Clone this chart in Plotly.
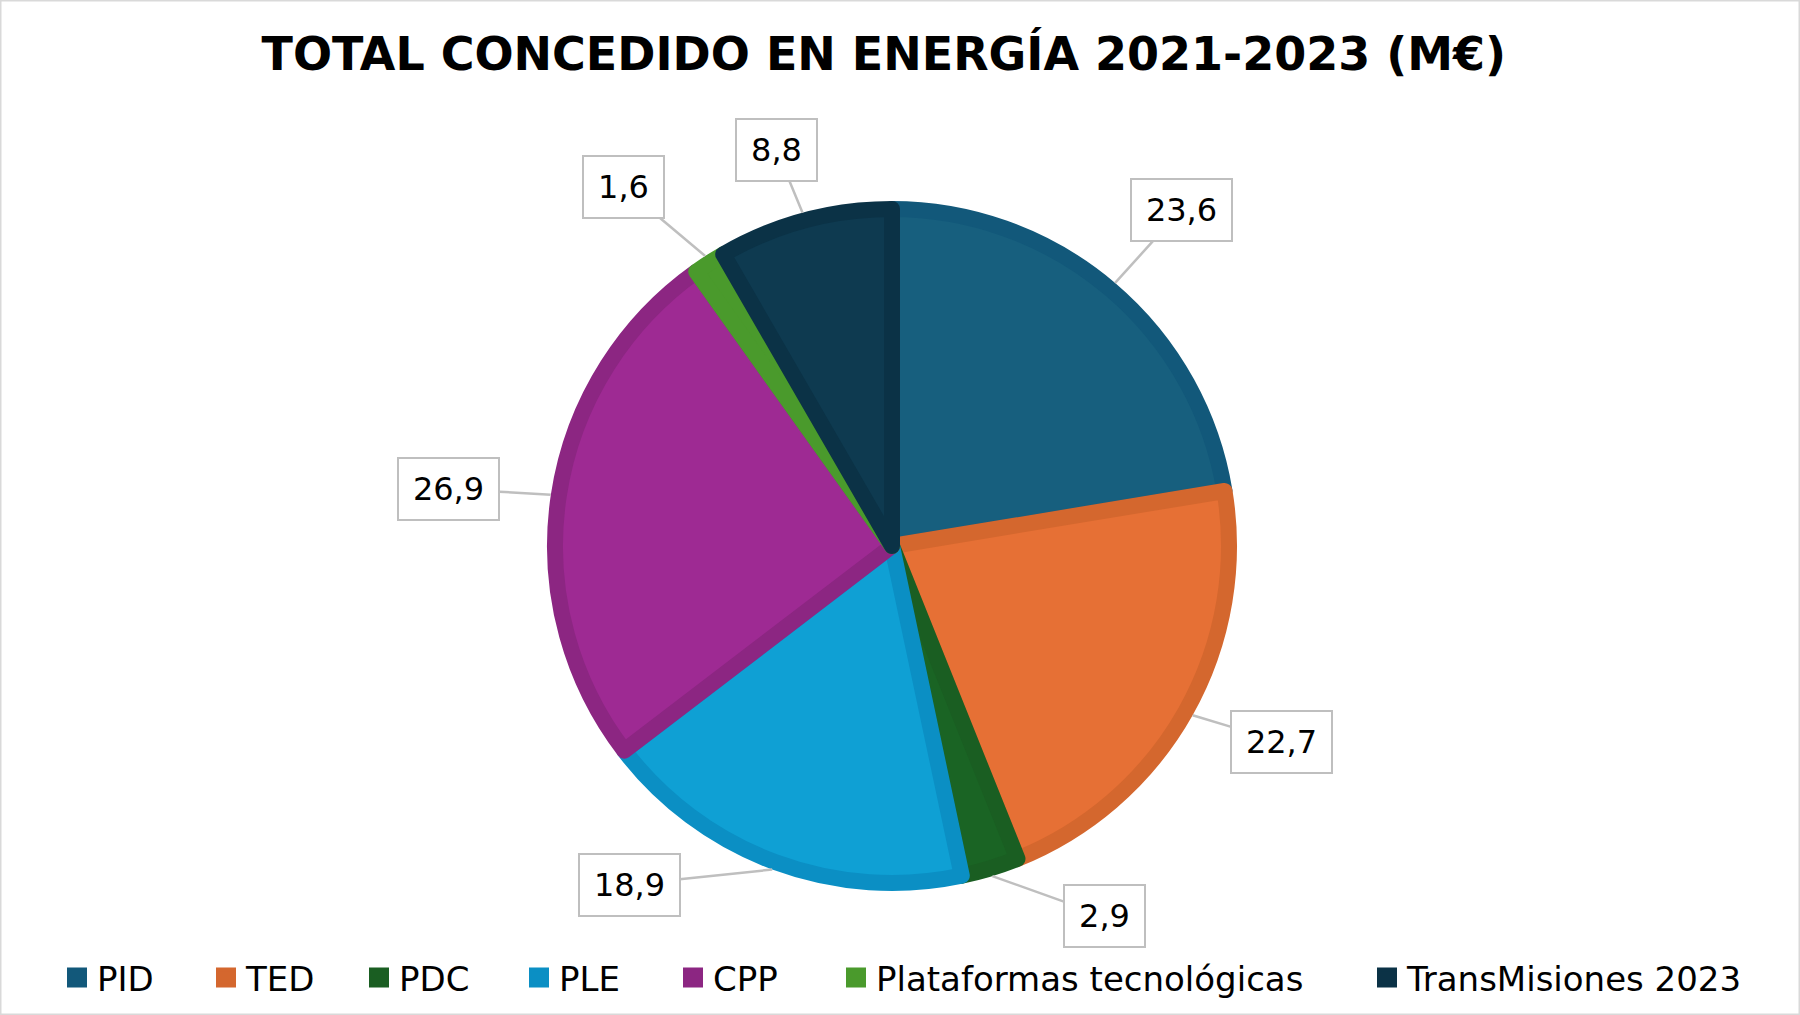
import numpy as np
import plotly.graph_objects as go

categories = ["PID", "TED", "PDC", "PLE", "CPP", "Plataformas tecnológicas", "TransMisiones 2023"]
values = [23.6, 22.7, 2.9, 18.9, 26.9, 1.6, 8.8]
label_texts = ["23,6", "22,7", "2,9", "18,9", "26,9", "1,6", "8,8"]

fill_colors = ["#175f7e", "#e67035", "#1a6424", "#0fa0d4", "#9e2a93", "#4a9a2c", "#0e3a50"]
edge_colors = ["#12587a", "#d4672e", "#1a5e22", "#0b8fc4", "#8c2682", "#4a9a2c", "#0b3246"]
# label offsets (pixels) from slice edge to callout box centre
label_dx = [66, 89, 112, -143, -102, -82, -26]
label_dy = [-73, 27, 40, 15, -6, -69, -63]
# legend symbol centres (pixels)
legend_x = [77, 226, 379, 539, 693, 856, 1387]

W, H = 1800, 1015
cx, cy, r = 892, 546, 337
line_w = 16
FONT = "DejaVu Sans"

fig = go.Figure(go.Pie(
    labels=categories, values=values, sort=False, direction="clockwise", rotation=0,
    marker=dict(colors=fill_colors, line=dict(color=edge_colors, width=line_w)),
    textinfo="none", hoverinfo="label+value", showlegend=False,
    domain=dict(x=[(cx - r) / W, (cx + r) / W], y=[1 - (cy + r) / H, 1 - (cy - r) / H]),
))

# legend entries (one legend per entry to reproduce the wide spacing)
for i, cat in enumerate(categories):
    key = "legend" if i == 0 else f"legend{i + 1}"
    fig.add_trace(go.Scatter(
        x=[None], y=[None], mode="markers", name=cat, legend=key, showlegend=True,
        marker=dict(symbol="square", size=19, color=edge_colors[i],
                    line=dict(color=edge_colors[i], width=4)),
        hoverinfo="skip",
    ))
    fig.update_layout({key: dict(
        x=(legend_x[i] - 20) / W, xanchor="left", y=1 - 978 / H, yanchor="middle",
        orientation="h", bgcolor="rgba(0,0,0,0)", borderwidth=0,
        font=dict(family=FONT, size=34, color="#000000"),
    )})

vals = np.array(values)
cum = np.cumsum(vals)
mid = (cum - vals / 2) / vals.sum() * 2 * np.pi
re = r + line_w / 2
for i, a in enumerate(mid):
    px = cx + re * np.sin(a)
    py = cy - re * np.cos(a)
    fig.add_annotation(
        x=px / W, y=1 - py / H, xref="paper", yref="paper",
        text=label_texts[i], showarrow=True, arrowhead=0, arrowwidth=2.5, arrowcolor="#bfbfbf",
        ax=label_dx[i], ay=label_dy[i], axref="pixel", ayref="pixel",
        font=dict(family=FONT, size=32, color="#000000"),
        width=77 if len(label_texts[i]) > 3 else 57, align="center",
        bgcolor="#ffffff", bordercolor="#bfbfbf", borderwidth=2, borderpad=11,
    )

fig.add_shape(type="rect", xref="paper", yref="paper", x0=0, y0=0, x1=1, y1=1,
              line=dict(color="#d9d9d9", width=3))

fig.update_layout(
    width=W, height=H,
    margin=dict(l=0, r=0, t=0, b=0),
    paper_bgcolor="#ffffff", plot_bgcolor="#ffffff",
    xaxis=dict(visible=False), yaxis=dict(visible=False),
    title=dict(text="<b>TOTAL CONCEDIDO EN ENERGÍA 2021-2023 (M€)</b>", x=0.491, xanchor="center",
               y=1 - 54 / H, yanchor="middle", yref="container",
               font=dict(family=FONT, size=46, color="#000000")),
)

fig.write_html("out.html", config={"displayModeBar": False},
               post_script="document.body.style.margin='0';document.body.style.overflow='hidden';")
